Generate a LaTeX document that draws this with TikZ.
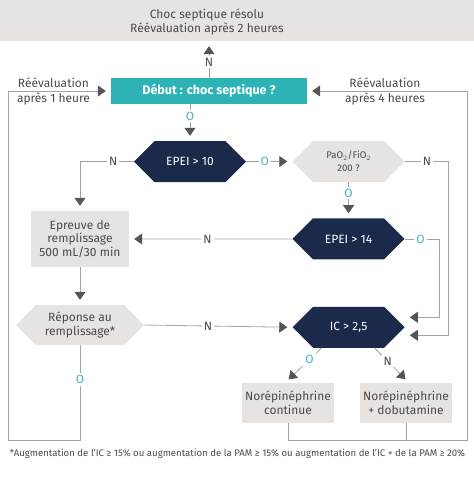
\documentclass[tikz,border=0pt]{standalone}
\usepackage{fontspec}
\setmainfont{Fira Sans}
\usetikzlibrary{positioning,arrows.meta,shapes.symbols}

\definecolor{debutcol}{HTML}{2DB3B5}
\definecolor{navycol}{HTML}{1B2A4A}
\definecolor{greycol}{HTML}{E7E3E1}
\definecolor{bandcol}{HTML}{E6E3E1}
\definecolor{linecol}{HTML}{A3A3A3}
\definecolor{tipcol}{HTML}{555555}
\definecolor{textcol}{HTML}{4A4A4A}
\definecolor{ocol}{HTML}{45B5B8}

\begin{document}
\begin{tikzpicture}[x=1pt, y=-1pt,
    hexnode/.style={signal, signal to=east and west, signal pointer angle=90, minimum width=112pt, minimum height=41pt, inner sep=0pt, align=center, font=\fontsize{12}{14.5}\selectfont},
    darkhex/.style={hexnode, fill=navycol, text=white},
    greyhex/.style={hexnode, fill=greycol, text=textcol},
    boxnode/.style={rectangle, fill=greycol, text=textcol, align=center, inner sep=0pt, minimum width=92pt, minimum height=40pt, font=\fontsize{12}{13.5}\selectfont},
    startnode/.style={rectangle, fill=debutcol, text=white, inner sep=0pt, minimum width=196pt, minimum height=26pt, font=\fontsize{12.5}{14}\selectfont\bfseries},
    plaintext/.style={text=textcol, align=center, inner sep=0pt, font=\fontsize{12}{14.5}\selectfont},
    flow/.style={draw=linecol, line width=0.8pt, -{Triangle[width=11pt, length=8pt, color=tipcol]}, shorten >=5pt},
    line/.style={draw=linecol, line width=0.8pt},
    nlab/.style={fill=white, inner sep=2pt, text=textcol, font=\fontsize{12}{14}\selectfont},
    olab/.style={nlab, text=ocol}
    ]
        \useasboundingbox (0,0) rectangle (474,493);

        %Nodes
        \node[fill=bandcol, minimum width=474pt, minimum height=41pt, inner sep=0pt]
            (resolu) at (237,20.5) {};
        \node[plaintext]
            (resolutext) at (207,22) {Choc septique résolu\\Réévaluation après 2 heures};
        \node[startnode]
            (debut) at (209,91) {Début : choc septique ?};
        \node[plaintext]
            (reeval1) at (53.5,91.5) {Réévaluation\\après 1 heure};
        \node[plaintext]
            (reeval4) at (385,91.5) {Réévaluation\\après 4 heures};
        \node[darkhex]
            (epei10) at (190,161.5) {EPEI > 10};
        \node[greyhex, font=\fontsize{9.6}{13}\selectfont]
            (pao2) [right=46pt of epei10] {PaO$_2$/FiO$_2$\\200 ?};
        \node[darkhex]
            (epei14) [below=36pt of pao2] {EPEI > 14};
        \node[darkhex]
            (ic) [below=47pt of epei14] {IC > 2,5};
        \node[boxnode, minimum width=98pt, minimum height=56pt]
            (epreuve) at (80,239) {Epreuve de\\remplissage\\500 mL/30 min};
        \node[greyhex, minimum width=128pt, minimum height=40pt, font=\fontsize{12}{14.5}\selectfont]
            (reponse) at (80,325) {Réponse au\\remplissage*};
        \node[boxnode]
            (norcont) at (288,403) {Norépinéphrine\\continue};
        \node[boxnode]
            (nordobu) at (406,403) {Norépinéphrine\\+ dobutamine};
        \node[plaintext, font=\fontsize{9.6}{11}\selectfont]
            (footnote) at (237.5,454) {*Augmentation de l'IC ≥ 15\% ou augmentation de la PAM ≥ 15\% ou augmentation de l'IC + de la PAM ≥ 20\%};

        \coordinate (cornerBL) at (8,440);
        \coordinate (cornerBR) at (467,440);

        %Lines
        \draw[flow]
            (debut.north) -- node[nlab, pos=0.43] {N} (debut.north |- resolu.south);
        \draw[flow]
            (debut.south -| epei10.north) -- node[olab, pos=0.32] {O} (epei10.north);
        \draw[flow]
            (epei10.east) -- node[olab, pos=0.4] {O} (pao2.west);
        \draw[flow]
            (epei10.west) -| node[nlab, pos=0.19] {N} (epreuve.north);
        \draw[flow]
            (pao2.south) -- node[olab, pos=0.3] {O} (epei14.north);
        \draw[flow]
            (pao2.east) -- node[nlab, pos=0.5] {N} ++(44,0) |- ([yshift=-8pt]ic.east);
        \draw[flow]
            (epei14.east) -- node[olab, pos=0.45] {O} ++(35,0) |- ([yshift=10pt]ic.east);
        \draw[flow]
            (epei14.west) -- node[nlab, pos=0.52] {N} (epreuve.east);
        \draw[flow]
            (epreuve.south) -- (reponse.north);
        \draw[flow]
            (reponse.east) -- node[nlab, pos=0.43] {N} (ic.west);
        \draw[flow]
            ([xshift=-27pt]ic.south) -- node[olab, pos=0.33] {O} ([xshift=-3pt]norcont.north);
        \draw[flow]
            ([xshift=26pt]ic.south) -- node[nlab, pos=0.38] {N} ([xshift=3pt]nordobu.north);
        \draw[flow]
            (reponse.south) -- node[olab, pos=0.36] {O} (reponse.south |- cornerBL) -- (cornerBL) |- (debut.west);
        \draw[flow]
            (norcont.south) |- (cornerBR) |- (debut.east);
        \draw[line]
            (nordobu.south) -- (nordobu.south |- cornerBR);
    \end{tikzpicture}
\end{document}
